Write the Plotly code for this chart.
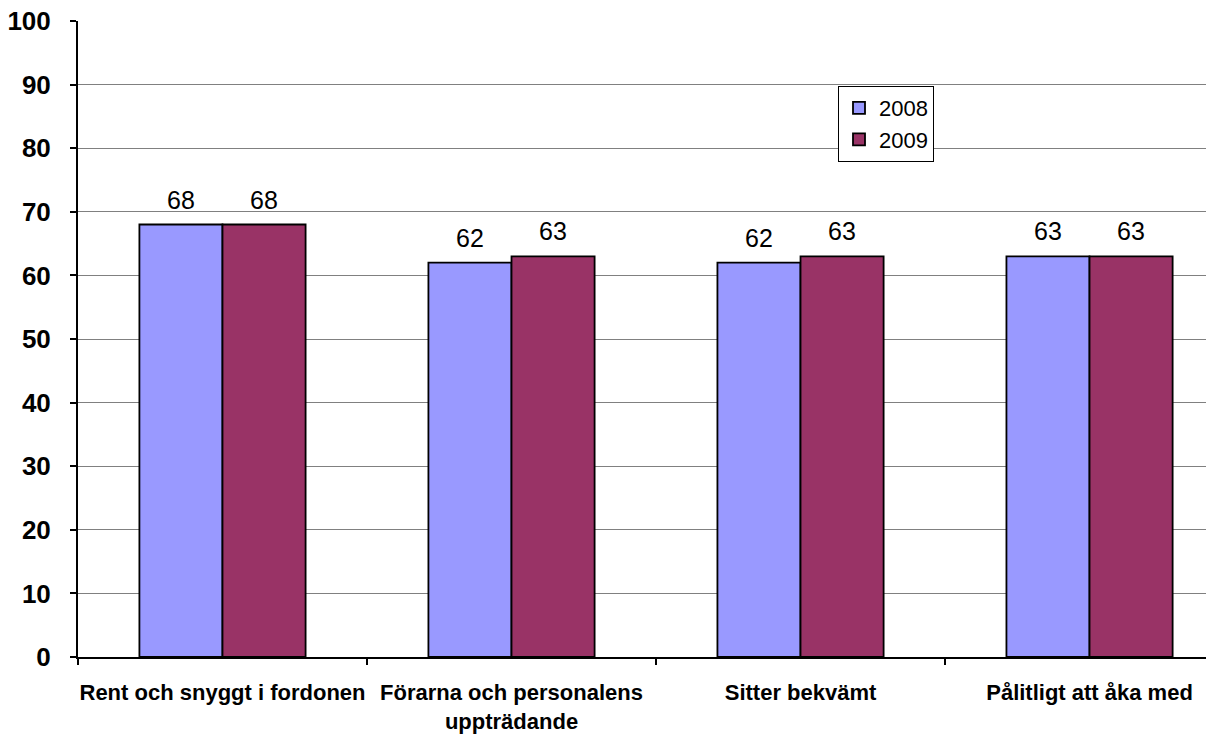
import plotly.graph_objects as go

categories = ["Rent och snyggt i fordonen", "Förarna och personalens<br>uppträdande", "Sitter bekvämt", "Pålitligt att åka med"]
values_2008 = [68, 62, 62, 63]
values_2009 = [68, 63, 63, 63]
y_ticks = [0, 10, 20, 30, 40, 50, 60, 70, 80, 90, 100]

FONT = "Liberation Sans, Arial"

fig = go.Figure()
fig.add_trace(go.Bar(
    x=categories, y=values_2008, name="2008",
    marker=dict(color="#9999FF", line=dict(color="black", width=1.8)),
))
fig.add_trace(go.Bar(
    x=categories, y=values_2009, name="2009",
    marker=dict(color="#993366", line=dict(color="black", width=1.8)),
))

# value labels above each bar
for vals, shift in ((values_2008, -41.5), (values_2009, 41.5)):
    for c, v in zip(categories, vals):
        fig.add_annotation(
            x=c, y=v, xref="x", yref="y", text=str(v), showarrow=False,
            xshift=shift, yshift=9, yanchor="bottom",
            font=dict(family=FONT, size=25, color="black"),
        )

fig.update_layout(
    width=1206, height=736,
    margin=dict(l=78, r=0, t=21, b=79, autoexpand=False),
    paper_bgcolor="white", plot_bgcolor="white",
    barmode="group", bargap=0.425, bargroupgap=0,
    font=dict(family=FONT, color="black"),
    showlegend=True,
    legend=dict(
        x=(838 - 78) / 1128, y=(657 - 86) / 636, xanchor="left", yanchor="top",
        bgcolor="white", bordercolor="black", borderwidth=1,
        font=dict(size=22, color="black", family=FONT),
        tracegroupgap=0, itemwidth=30,
    ),
    xaxis=dict(
        range=[-0.5, 3.403],
        showline=True, linecolor="black", linewidth=2,
        ticks="outside", ticklen=6, tickwidth=2, tickcolor="black",
        tickson="boundaries", ticklabelstandoff=15, tickangle=0,
        tickfont=dict(size=22, color="black", family=FONT, weight="bold"),
        showgrid=False,
    ),
    yaxis=dict(
        range=[0, 100], tickvals=y_ticks,
        showline=True, linecolor="black", linewidth=2,
        ticks="outside", ticklen=6, tickwidth=2, tickcolor="black",
        ticklabelstandoff=14,
        showgrid=True, gridcolor="#808080", gridwidth=1,
        tickfont=dict(size=26, color="black", family=FONT, weight="bold"),
        zeroline=False,
    ),
)

fig.write_html(
    "out.html",
    config={"displayModeBar": False},
    post_script="document.body.style.margin='0';document.body.style.overflow='hidden';",
)
